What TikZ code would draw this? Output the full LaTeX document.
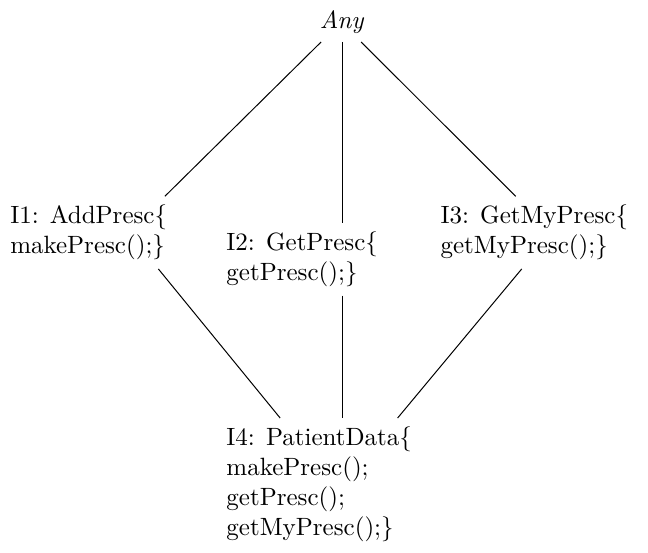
\documentclass[tikz,border=0pt]{standalone}
\tikzset{iface/.style={align=left,anchor=north west}}
\begin{document}
\begin{tikzpicture}
    \useasboundingbox (0,0) rectangle (9.111,-7.775);
    \node [anchor=base] (any) at (4.81,-0.394) {\emph{Any}};
    \node [iface] (i1) at (0.02,-2.76) {I1: AddPresc\{\\makePresc();\}};
    \node [iface] (i2) at (3.06,-3.135) {I2: GetPresc\{\\getPresc();\}};
    \node [iface] (i3) at (6.07,-2.76) {I3: GetMyPresc\{\\getMyPresc();\}};
    \node [iface] (i4) at (3.06,-5.877) {I4: PatientData\{\\makePresc();\\getPresc();\\getMyPresc();\}};
    \draw ([xshift=-8.4pt]any.south) -- ([xshift=-4.4pt]i1.north east);
    \draw (any.south) -- (any.south |- i2.north);
    \draw ([xshift=7.6pt]any.south) -- ([xshift=33.6pt]i3.north west);
    \draw ([xshift=-7pt]i1.south east) -- ([xshift=25pt]i4.north west);
    \draw (i2.south -| any.south) -- (i4.north -| any.south);
    \draw ([xshift=36pt]i3.south west) -- ([xshift=72pt]i4.north west);
\end{tikzpicture}
\end{document}
